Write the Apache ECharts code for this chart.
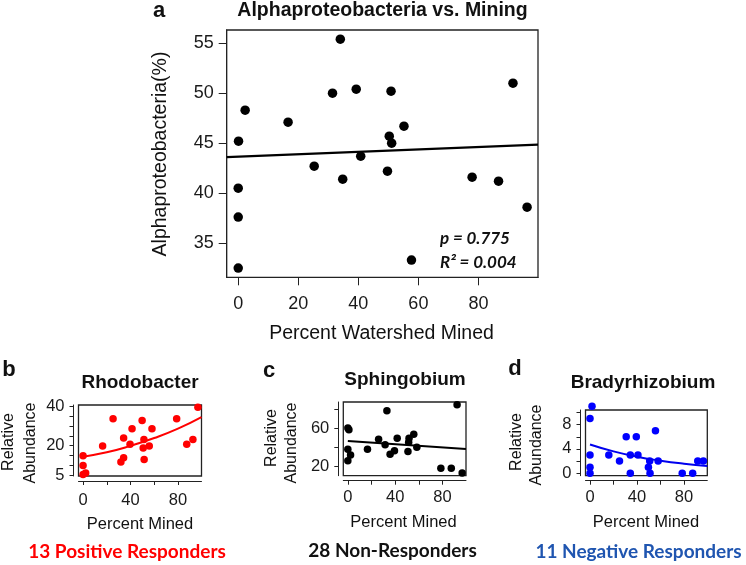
<!DOCTYPE html>
<html>
<head>
<meta charset="utf-8">
<script src="https://cdn.jsdelivr.net/npm/echarts@6/dist/echarts.min.js"></script>
<style>
html,body{margin:0;padding:0;background:#fff;}
#chart{width:746px;height:565px;}
</style>
</head>
<body>
<div id="chart"></div>
<script>
// ---- Panel a: Alphaproteobacteria vs. percent watershed mined ----
const mainX = [0.1, 2.3, 0, 0, 0, 16.6, 25.3, 31.4, 34.0, 34.8, 39.3, 40.8, 49.7, 50.3, 50.9, 51.1, 55.2, 57.7, 77.9, 86.7, 91.5, 96.2];
const mainY = [45.2, 48.3, 40.5, 37.6, 32.5, 47.1, 42.7, 50.0, 55.4, 41.4, 50.4, 43.7, 42.2, 45.7, 50.2, 45.0, 46.7, 33.3, 41.6, 41.2, 51.0, 38.6];
const mainFitX = [-3.84, 99.84];
const mainFitY = [43.6, 44.86];
const mainXTicks = [0, 20, 40, 60, 80];
const mainYTicks = [35, 40, 45, 50, 55];

// ---- Panel b: Rhodobacter ----
const rhoX = [96.8, 25.3, 49.8, 78.9, 41.3, 58.1, 34.2, 51.3, 92.6, 87.4, 16.5, 39.6, 50.7, 55.8, 0, 34.2, 31.9, 51.5, 0, 0, 2.2];
const rhoY = [39.6, 33.8, 32.9, 33.8, 28.7, 28.7, 23.9, 23.1, 23.1, 20.7, 19.8, 20.7, 18.8, 19.8, 14.8, 13.8, 11.7, 12.9, 9.9, 5.3, 6.0];
const rhoFitX = [0, 20, 40, 60, 80, 99.8];
const rhoFitY = [14.4, 16.6, 19.9, 23.9, 28.7, 34.6];
const rhoYTicks = [5, 10, 15, 20, 25, 30, 35, 40];
const rhoYLabels = [5, 20, 40];

// ---- Panel c: Sphingobium ----
const sphX = [92.3, 33.0, 0, 0.9, 55.7, 51.7, 41.7, 26.0, 51.4, 31.5, 58.3, 16.6, 0, 39.4, 50.8, 35.7, 2.3, 0, 78.6, 87.4, 96.6];
const sphY = [84.7, 78.4, 60.0, 58.2, 53.6, 49.4, 49.4, 48.3, 45.1, 42.3, 39.8, 37.7, 37.7, 36.2, 35.2, 32.4, 31.7, 25.6, 17.6, 17.6, 12.6];
const sphFitX = [0, 99.8];
const sphFitY = [46.4, 37.8];
const sphYTicks = [20, 40, 60, 80];
const sphYLabels = [20, 60];

// ---- Panel d: Bradyrhizobium ----
const braX = [1.7, 0, 55.7, 30.8, 39.4, 0, 16.0, 34.3, 40.8, 25.1, 50.8, 58.0, 91.7, 96.5, 0, 49.7, 0, 34.3, 51.1, 78.5, 87.4];
const braY = [11, 9, 7, 6, 6, 3, 3, 3, 3, 2, 2, 2, 2, 2, 1, 1, 0, 0, 0, 0, 0];
const braFitX = [0, 20, 40, 60, 80, 99.8];
const braFitY = [4.74, 3.6, 2.73, 2.07, 1.57, 1.2];
const braYTicks = [0, 2, 4, 6, 8, 10];
const braYLabels = [0, 4, 8];

const smallXTicks = [0, 20, 40, 60, 80];
const smallXLabels = [0, 40, 80];

const FONT = '"Liberation Sans", Arial, sans-serif';
const CAL = 'Lato, "Open Sans", sans-serif';
const AX = '#222';

function pairs(xs, ys) { return xs.map((x, i) => [x, ys[i]]); }

function gridBox(left, top, width, height) {
  return { left, top, width, height, show: true, borderColor: AX, borderWidth: 1.3,
           backgroundColor: 'transparent', containLabel: false, outerBoundsMode: 'none' };
}

function xAx(gi, ticks, labels, o) {
  return {
    type: 'value', gridIndex: gi, min: -3.84, max: 99.84, offset: o.offset,
    axisLine: { show: true, onZero: false, lineStyle: { color: AX, width: 1 } },
    axisTick: { show: true, length: o.tick, customValues: ticks, lineStyle: { color: AX, width: 1 } },
    axisLabel: { customValues: labels, margin: o.margin, color: '#1a1a1a', fontSize: o.fs, fontFamily: FONT },
    splitLine: { show: false }
  };
}
function yAx(gi, min, max, ticks, labels, o) {
  return {
    type: 'value', gridIndex: gi, min, max, offset: o.offset,
    axisLine: { show: true, onZero: false, lineStyle: { color: AX, width: 1 } },
    axisTick: { show: true, length: o.tick, customValues: ticks, lineStyle: { color: AX, width: 1 } },
    axisLabel: { customValues: labels, margin: o.margin, color: '#1a1a1a', fontSize: o.fs, fontFamily: FONT },
    splitLine: { show: false }
  };
}

function txt(text, x, y, font, fill, rot) {
  return { type: 'text', x, y, rotation: rot || 0, silent: true,
           style: { text, font, fill: fill || '#111', textAlign: 'center', textVerticalAlign: 'middle' } };
}

const chart = echarts.init(document.getElementById('chart'), null, { renderer: 'canvas' });
chart.setOption({
  animation: false,
  backgroundColor: '#fff',
  grid: [
    gridBox(226.7, 30, 311.3, 247.3),
    gridBox(78.5, 405, 123, 71),
    gridBox(343.3, 402, 122.7, 73.7),
    gridBox(585.5, 410, 121.8, 65.7)
  ],
  xAxis: [
    xAx(0, mainXTicks, mainXTicks, { offset: 0, tick: 8, margin: 18, fs: 18 }),
    xAx(1, smallXTicks, smallXLabels, { offset: 5, tick: 4, margin: 11, fs: 16.5 }),
    xAx(2, smallXTicks, smallXLabels, { offset: 5, tick: 4, margin: 8, fs: 16.5 }),
    xAx(3, smallXTicks, smallXLabels, { offset: 5, tick: 4, margin: 8, fs: 16.5 })
  ],
  yAxis: [
    yAx(0, 31.58, 56.32, mainYTicks, mainYTicks, { offset: 0, tick: 8, margin: 13, fs: 18 }),
    yAx(1, 4.5, 40.8, rhoYTicks, rhoYLabels, { offset: 5, tick: 4, margin: 9, fs: 16.5 }),
    yAx(2, 9.7, 87.6, sphYTicks, sphYLabels, { offset: 5, tick: 4, margin: 9, fs: 16.5 }),
    yAx(3, -0.4, 10.4, braYTicks, braYLabels, { offset: 5, tick: 4, margin: 9, fs: 16.5 })
  ],
  series: [
    { type: 'scatter', xAxisIndex: 0, yAxisIndex: 0, data: pairs(mainX, mainY), symbolSize: 9.5, clip: false,
      itemStyle: { color: '#000', opacity: 1 } },
    { type: 'line', xAxisIndex: 0, yAxisIndex: 0, data: pairs(mainFitX, mainFitY), showSymbol: false,
      lineStyle: { color: '#000', width: 2.2 } },
    { type: 'scatter', xAxisIndex: 1, yAxisIndex: 1, data: pairs(rhoX, rhoY), symbolSize: 7.5, clip: false,
      itemStyle: { color: '#ff0000', opacity: 1 } },
    { type: 'line', xAxisIndex: 1, yAxisIndex: 1, data: pairs(rhoFitX, rhoFitY), showSymbol: false, smooth: true,
      lineStyle: { color: '#ff0000', width: 2 } },
    { type: 'scatter', xAxisIndex: 2, yAxisIndex: 2, data: pairs(sphX, sphY), symbolSize: 7.5, clip: false,
      itemStyle: { color: '#000', opacity: 1 } },
    { type: 'line', xAxisIndex: 2, yAxisIndex: 2, data: pairs(sphFitX, sphFitY), showSymbol: false,
      lineStyle: { color: '#000', width: 2 } },
    { type: 'scatter', xAxisIndex: 3, yAxisIndex: 3, data: pairs(braX, braY), symbolSize: 7.5, clip: false,
      itemStyle: { color: '#0000ff', opacity: 1 } },
    { type: 'line', xAxisIndex: 3, yAxisIndex: 3, data: pairs(braFitX, braFitY), showSymbol: false, smooth: true,
      lineStyle: { color: '#0000ee', width: 2 } }
  ],
  graphic: [
    txt('a', 159, 11, 'bold 22px ' + FONT),
    txt('Alphaproteobacteria vs. Mining', 382.5, 11, 'bold 19.5px ' + FONT),
    txt('Alphaproteobacteria(%)', 161, 154, '19.5px ' + FONT, '#111', Math.PI / 2),
    txt('Percent Watershed Mined', 381.5, 334, '19.5px ' + FONT),
    { type: 'text', x: 440, y: 239, silent: true,
      style: { text: 'p = 0.775', font: 'italic bold 17px ' + CAL, fill: '#111', textAlign: 'left', textVerticalAlign: 'middle' } },
    { type: 'text', x: 440, y: 263, silent: true,
      style: { text: 'R\u00B2 = 0.004', font: 'italic bold 17px ' + CAL, fill: '#111', textAlign: 'left', textVerticalAlign: 'middle' } },

    txt('b', 9, 370, 'bold 22px ' + FONT),
    txt('Rhodobacter', 140, 383, 'bold 19px ' + FONT),
    txt('Relative', 9, 442, '16px ' + FONT, '#111', Math.PI / 2),
    txt('Abundance', 31, 443, '16px ' + FONT, '#111', Math.PI / 2),
    txt('Percent Mined', 140, 524, '16.5px ' + FONT),
    txt('13 Positive Responders', 127, 552, 'bold 19px ' + CAL, '#ff0000'),

    txt('c', 269, 371, 'bold 22px ' + FONT),
    txt('Sphingobium', 405, 380, 'bold 19px ' + FONT),
    txt('Relative', 272, 438, '16px ' + FONT, '#111', Math.PI / 2),
    txt('Abundance', 292, 443, '16px ' + FONT, '#111', Math.PI / 2),
    txt('Percent Mined', 403.5, 522, '16.5px ' + FONT),
    txt('28 Non-Responders', 392.5, 551, 'bold 19px ' + CAL, '#111'),

    txt('d', 515, 369, 'bold 22px ' + FONT),
    txt('Bradyrhizobium', 643, 383, 'bold 19px ' + FONT),
    txt('Relative', 517, 442, '16px ' + FONT, '#111', Math.PI / 2),
    txt('Abundance', 537, 445, '16px ' + FONT, '#111', Math.PI / 2),
    txt('Percent Mined', 646, 522, '16.5px ' + FONT),
    txt('11 Negative Responders', 638.5, 552, 'bold 19px ' + CAL, '#1f55b0')
  ]
});
</script>
</body>
</html>
